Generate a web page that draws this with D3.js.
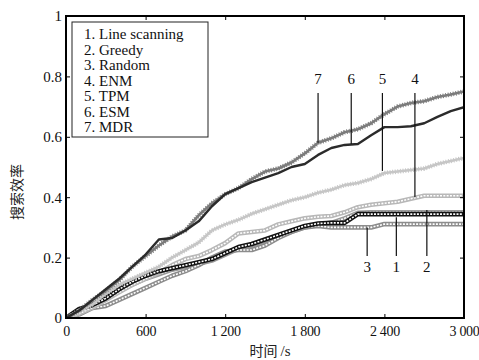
<!DOCTYPE html>
<html>
<head>
<meta charset="utf-8">
<script src="https://cdn.jsdelivr.net/npm/d3@7/dist/d3.min.js"></script>
<style>
body { margin: 0; background: #fff; }
text { font-family: "Liberation Serif", "Times New Roman", serif; }
</style>
</head>
<body>
<script>
var times = [0, 100, 200, 300, 400, 500, 600, 700, 800, 900, 1000,
             1100, 1200, 1300, 1400, 1500, 1600, 1700, 1800, 1900, 2000,
             2100, 2200, 2300, 2400, 2500, 2600, 2700, 2800, 2900, 3000];

var seriesNames = ['1. Line scanning', '2. Greedy', '3. Random', '4. ENM', '5. TPM', '6. ESM', '7. MDR'];

var lineScanning = [0, 0.03, 0.043, 0.065, 0.095, 0.12, 0.14, 0.155, 0.165, 0.175, 0.185,
                    0.195, 0.215, 0.235, 0.245, 0.26, 0.275, 0.29, 0.305, 0.313, 0.315,
                    0.315, 0.344, 0.344, 0.344, 0.344, 0.344, 0.344, 0.344, 0.344, 0.344];
var greedy = [0, 0.025, 0.045, 0.07, 0.09, 0.11, 0.13, 0.145, 0.16, 0.17, 0.18,
              0.19, 0.21, 0.23, 0.24, 0.255, 0.27, 0.285, 0.3, 0.31, 0.315,
              0.33, 0.348, 0.35, 0.35, 0.35, 0.35, 0.35, 0.35, 0.35, 0.35];
var random = [0, 0.012, 0.033, 0.04, 0.06, 0.08, 0.1, 0.12, 0.14, 0.155, 0.175,
              0.2, 0.22, 0.225, 0.225, 0.24, 0.265, 0.285, 0.3, 0.305, 0.3,
              0.3, 0.3, 0.3, 0.311, 0.311, 0.311, 0.311, 0.311, 0.311, 0.311];
var enm = [0, 0.015, 0.035, 0.06, 0.085, 0.11, 0.13, 0.15, 0.175, 0.195, 0.205,
           0.225, 0.248, 0.28, 0.285, 0.29, 0.31, 0.32, 0.33, 0.335, 0.338,
           0.35, 0.367, 0.375, 0.38, 0.385, 0.395, 0.405, 0.405, 0.405, 0.405];
var tpm = [0, 0.02, 0.045, 0.08, 0.11, 0.13, 0.15, 0.17, 0.2, 0.225, 0.25,
           0.29, 0.31, 0.325, 0.345, 0.36, 0.375, 0.39, 0.4, 0.415, 0.425,
           0.44, 0.447, 0.46, 0.48, 0.485, 0.49, 0.495, 0.51, 0.52, 0.53];
var esm = [0, 0.025, 0.06, 0.095, 0.13, 0.17, 0.21, 0.26, 0.265, 0.29, 0.32,
           0.37, 0.41, 0.43, 0.45, 0.465, 0.48, 0.5, 0.51, 0.54, 0.563,
           0.573, 0.576, 0.605, 0.632, 0.632, 0.635, 0.645, 0.666, 0.685, 0.698];
var mdr = [0, 0.025, 0.06, 0.09, 0.125, 0.17, 0.205, 0.24, 0.27, 0.29, 0.34,
           0.38, 0.41, 0.43, 0.46, 0.485, 0.495, 0.515, 0.545, 0.58, 0.595,
           0.615, 0.625, 0.645, 0.675, 0.7, 0.712, 0.718, 0.732, 0.74, 0.75];

var xTicks = [0, 600, 1200, 1800, 2400, 3000];
var xTickLabels = ['0', '600', '1 200', '1 800', '2 400', '3 000'];
var yTicks = [0, 0.2, 0.4, 0.6, 0.8, 1];
var yTickLabels = ['0', '0.2', '0.4', '0.6', '0.8', '1'];

// pointer labels: text, time, value where the pointer meets the curve, side
var annoText = ['7', '6', '5', '4', '3', '1', '2'];
var annoTime = [1900, 2150, 2385, 2630, 2270, 2490, 2720];
var annoValue = [0.58, 0.576, 0.487, 0.4, 0.3, 0.334, 0.358];
var annoSide = ['top', 'top', 'top', 'top', 'bottom', 'bottom', 'bottom'];

var width = 479;
var height = 360;
var plotLeft = 66, plotRight = 464, plotTop = 16, plotBottom = 318;

var x = d3.scaleLinear().domain([0, 3000]).range([plotLeft, plotRight]);
var y = d3.scaleLinear().domain([0, 1]).range([plotBottom, plotTop]);

var svg = d3.select('body')
            .append('svg')
            .attr('width', width)
            .attr('height', height);

svg.append('clipPath')
   .attr('id', 'plot-clip')
   .append('rect')
   .attr('x', plotLeft)
   .attr('y', plotTop)
   .attr('width', plotRight - plotLeft)
   .attr('height', plotBottom - plotTop);

var plot = svg.append('g').attr('clip-path', 'url(#plot-clip)');

var line = d3.line()
             .x(function (d) { return x(d[0]); })
             .y(function (d) { return y(d[1]); });

function drawSeries(values, color, kind) {
    var pts = times.map(function (t, i) { return [t, values[i]]; });
    if (kind === 'square') {
        plot.append('path').datum(pts).attr('d', line)
            .attr('fill', 'none').attr('stroke', color)
            .attr('stroke-width', 4.6).attr('stroke-linejoin', 'round');
        plot.append('path').datum(pts).attr('d', line)
            .attr('fill', 'none').attr('stroke', '#fff')
            .attr('stroke-width', 1.6).attr('stroke-dasharray', '2,1.3');
    } else if (kind === 'star') {
        plot.append('path').datum(pts).attr('d', line)
            .attr('fill', 'none').attr('stroke', color)
            .attr('stroke-width', 2.6).attr('stroke-linejoin', 'round');
        plot.append('path').datum(pts).attr('d', line)
            .attr('fill', 'none').attr('stroke', color)
            .attr('stroke-width', 4.6).attr('stroke-dasharray', '1,1.6');
    } else {
        plot.append('path').datum(pts).attr('d', line)
            .attr('fill', 'none').attr('stroke', color)
            .attr('stroke-width', 2.4).attr('stroke-linejoin', 'round');
    }
}

drawSeries(greedy, '#9a9a9a', 'square');
drawSeries(random, '#8c8c8c', 'square');
drawSeries(enm, '#b8b8b8', 'square');
drawSeries(lineScanning, '#111', 'square');
drawSeries(tpm, '#c6c6c6', 'star');
drawSeries(mdr, '#7c7c7c', 'star');
drawSeries(esm, '#2b2b2b', 'plain');

// axes, ticks pointing inward on all four sides
var xAxis = d3.axisBottom(x)
              .tickValues(xTicks)
              .tickFormat(function (d, i) { return xTickLabels[i]; })
              .tickSizeInner(-4).tickSizeOuter(0).tickPadding(8);
var yAxis = d3.axisLeft(y)
              .tickValues(yTicks)
              .tickFormat(function (d, i) { return yTickLabels[i]; })
              .tickSizeInner(-4).tickSizeOuter(0).tickPadding(4);

var gx = svg.append('g').attr('transform', 'translate(0,' + plotBottom + ')').call(xAxis);
var gy = svg.append('g').attr('transform', 'translate(' + plotLeft + ',0)').call(yAxis);
var gxTop = svg.append('g').attr('transform', 'translate(0,' + plotTop + ')')
               .call(d3.axisTop(x).tickValues(xTicks).tickFormat('').tickSizeInner(-4).tickSizeOuter(0));
var gyRight = svg.append('g').attr('transform', 'translate(' + plotRight + ',0)')
                 .call(d3.axisRight(y).tickValues(yTicks).tickFormat('').tickSizeInner(-4).tickSizeOuter(0));

[gx, gy, gxTop, gyRight].forEach(function (g) {
    g.select('.domain').remove();
    g.selectAll('line').attr('stroke', '#000').attr('stroke-width', 1);
    g.selectAll('text')
     .attr('fill', '#111')
     .style('font-family', '"Liberation Serif", "Times New Roman", serif')
     .style('font-size', '15px');
});
gx.selectAll('text')
  .style('font-size', '14px')
  .style('letter-spacing', '-0.3px');

svg.append('rect')
   .attr('x', plotLeft)
   .attr('y', plotTop)
   .attr('width', plotRight - plotLeft)
   .attr('height', plotBottom - plotTop)
   .attr('fill', 'none')
   .attr('stroke', '#000')
   .attr('stroke-width', 2);

// pointer annotations
annoText.forEach(function (t, i) {
    var px = x(annoTime[i]);
    var yEnd = y(annoValue[i]);
    var yLine, yText;
    if (annoSide[i] === 'top') {
        yLine = y(0.745);
        yText = y(0.79) + 5;
    } else {
        yLine = y(0.205);
        yText = y(0.168) + 5;
    }
    svg.append('line')
       .attr('x1', px).attr('x2', px)
       .attr('y1', yLine).attr('y2', yEnd)
       .attr('stroke', '#111').attr('stroke-width', 1.2);
    svg.append('text')
       .attr('x', px)
       .attr('y', yText)
       .attr('text-anchor', 'middle')
       .style('font-size', '15px')
       .attr('fill', '#111')
       .text(t);
});

// legend
var legend = svg.append('g');
legend.append('rect')
      .attr('x', 72).attr('y', 22)
      .attr('width', 136).attr('height', 115)
      .attr('fill', '#fff')
      .attr('stroke', '#222')
      .attr('stroke-width', 1);
legend.selectAll('text')
      .data(seriesNames)
      .enter()
      .append('text')
      .attr('x', 84)
      .attr('y', function (d, i) { return 39 + i * 15.5; })
      .style('font-size', '15px')
      .attr('fill', '#111')
      .text(function (d) { return d; });

// axis titles
svg.append('text')
   .attr('transform', 'translate(22,192) rotate(-90)')
   .attr('text-anchor', 'middle')
   .style('font-family', '"Noto Sans CJK SC", sans-serif')
   .style('font-size', '14px')
   .attr('fill', '#222')
   .text('搜索效率');

var xTitle = svg.append('text')
                .attr('x', 270)
                .attr('y', 356)
                .attr('text-anchor', 'middle')
                .style('font-size', '15px')
                .attr('fill', '#222');
xTitle.append('tspan')
      .style('font-family', '"Noto Sans CJK SC", sans-serif')
      .style('font-size', '14px')
      .text('时间 ');
xTitle.append('tspan').text('/s');
</script>
</body>
</html>
